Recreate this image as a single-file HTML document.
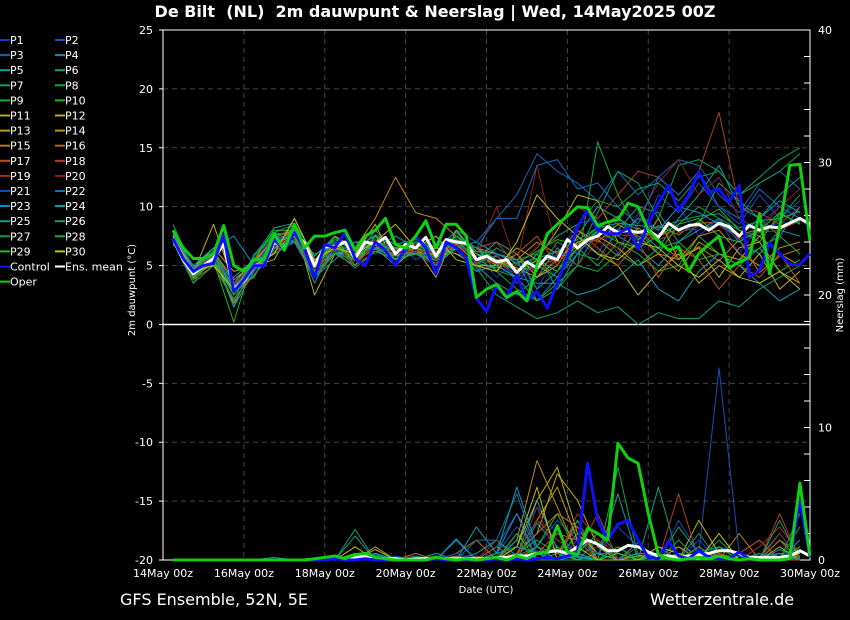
<!DOCTYPE html>
<html><head><meta charset="utf-8"><style>
html,body{margin:0;padding:0;background:#000;}
svg{display:block;font-family:"DejaVu Sans","Liberation Sans",sans-serif;}
</style></head><body>
<svg id="chart" width="850" height="620" viewBox="0 0 850 620" xmlns="http://www.w3.org/2000/svg">
<rect x="0" y="0" width="850" height="620" fill="#000"/>
<text x="435" y="17" fill="#fff" font-size="16" font-weight="bold" text-anchor="middle" xml:space="preserve">De Bilt  (NL)  2m dauwpunt &amp; Neerslag | Wed, 14May2025 00Z</text>
<g id="grid"></g>
<g id="axes"></g>
<g id="series" clip-path="url(#plotclip)"></g>
<defs><clipPath id="plotclip"><rect x="163" y="29" width="648" height="533"/></clipPath></defs>
<g id="legend"></g>
<text transform="translate(135,290) rotate(-90)" fill="#fff" font-size="10" text-anchor="middle">2m dauwpunt (°C)</text>
<text transform="translate(843,295) rotate(-90)" fill="#fff" font-size="10" text-anchor="middle">Neerslag (mm)</text>
<text x="486" y="593" fill="#fff" font-size="10" text-anchor="middle">Date (UTC)</text>
<text x="120" y="605" fill="#fff" font-size="16">GFS Ensemble, 52N, 5E</text>
<text x="650" y="605" fill="#fff" font-size="16">Wetterzentrale.de</text>
</svg>
<script>
const xLabels=["14May 00z","16May 00z","18May 00z","20May 00z","22May 00z","24May 00z","26May 00z","28May 00z","30May 00z"];
const yTicks=[25,20,15,10,5,0,-5,-10,-15,-20];
const y2Ticks=[40,30,20,10,0];
const meanT=[7.3,5.5,4.3,5.0,5.6,6.8,3.0,3.7,5.0,5.0,7.0,6.5,7.8,6.9,5.0,6.6,6.6,7.0,5.6,7.0,6.8,7.4,6.0,6.8,6.5,7.4,5.8,7.2,7.0,6.9,5.5,5.8,5.3,5.5,4.4,5.3,4.8,5.8,5.5,7.2,6.5,7.2,7.5,8.3,7.8,8.0,7.8,8.0,7.4,8.6,8.0,8.4,8.5,8.0,8.6,8.3,7.5,8.4,8.0,8.3,8.2,8.6,9.0,8.5];
const controlT=[7.3,5.6,4.5,5.0,5.2,7.6,2.8,3.8,5.0,5.0,7.2,6.3,7.8,6.5,4.0,6.8,6.5,7.8,5.6,5.0,7.0,6.3,5.0,6.5,7.5,6.5,4.3,7.0,6.5,5.6,2.2,1.1,3.3,2.2,4.2,2.0,2.8,1.4,3.5,5.7,8.3,9.7,8.0,7.7,7.7,8.2,6.4,8.5,10.3,11.8,9.7,11.0,12.9,11.2,11.5,10.4,11.8,4.0,4.6,6.9,6.0,5.1,5.1,6.0];
const operT=[8.0,6.5,5.6,5.6,6.0,8.4,5.0,4.5,5.5,5.5,7.7,6.3,8.5,6.5,7.5,7.5,7.8,8.0,6.3,7.5,8.0,9.0,6.8,6.5,7.5,8.8,6.5,8.5,8.5,7.5,2.3,3.0,3.4,2.3,2.8,2.0,5.0,7.7,8.5,9.2,10.0,9.9,8.4,8.7,8.9,10.3,10.0,8.0,7.1,6.3,6.6,4.5,6.0,6.8,7.5,4.8,5.3,5.7,9.4,4.3,8.3,13.5,13.6,7.1];
const meanP=[0,0,0,0,0,0,0,0,0,0,0,0,0,0,0.05,0.1,0.1,0.1,0.2,0.3,0.1,0.1,0.1,0,0.1,0.1,0.1,0.1,0.1,0.1,0.1,0.1,0.2,0.2,0.3,0.3,0.5,0.6,0.7,0.5,1.0,1.5,1.2,0.7,0.7,1.1,1.0,0.6,0.3,0.3,0.2,0.3,0.4,0.5,0.7,0.7,0.5,0.2,0.2,0.2,0.2,0.3,0.7,0.3];
const controlP=[0,0,0,0,0,0,0,0,0,0,0,0,0,0,0,0,0.1,0,0,0.1,0,0,0,0,0,0,0.1,0,0,0,0,0,0.1,0,0.1,0,0.1,0.2,0.1,0.3,0.6,7.3,3.0,1.5,2.7,3.0,1.5,0.2,0.1,1.4,0.3,0.1,0.7,0.2,0.1,0.1,0.6,0.1,0,0,0,0.1,4.5,0.2];
const operP=[0,0,0,0,0,0,0,0,0,0,0,0,0,0,0.1,0.2,0.3,0.1,0.4,0.5,0.2,0.1,0,0,0,0,0.2,0.1,0,0.1,0,0.1,0.2,0,0.3,0.1,0.5,0.6,2.6,0.6,0.4,2.4,2.0,1.5,8.8,7.7,7.3,3.5,0.4,0.1,0,0.1,0.2,0.1,0.3,0.1,0,0.1,0,0,0,0.1,5.8,0.3];
const memberNames=["P1","P2","P3","P4","P5","P6","P7","P8","P9","P10","P11","P12","P13","P14","P15","P16","P17","P18","P19","P20","P21","P22","P23","P24","P25","P26","P27","P28","P29","P30"];
const memberT=[
[7.5,4.0,6.0,2.5,5.5,7.5,8.0,4.5,7.0,5.0,7.5,6.5,7.0,5.0,7.5,6.0,4.0,5.5,3.0,6.0,8.5,9.0,6.0,9.5,8.0,10.0,7.5,9.0,6.0,8.5,10.0,9.0],
[7.0,4.5,5.0,3.5,4.5,6.5,7.5,5.5,6.0,6.5,6.0,7.0,5.5,6.5,6.5,4.5,6.0,3.5,5.5,4.0,7.0,6.0,9.0,7.0,11.0,9.5,12.0,10.0,8.5,11.0,9.0,10.5],
[7.8,4.2,5.5,2.0,6.0,7.2,8.5,5.8,7.5,6.0,7.0,5.5,7.5,6.0,8.0,7.0,9.0,11.0,14.5,13.0,12.0,10.5,13.0,11.0,12.5,14.0,13.5,11.0,9.5,12.0,13.0,11.5],
[7.2,3.8,6.2,3.5,4.0,7.5,7.0,4.0,6.5,5.5,8.0,6.0,6.0,5.5,6.5,5.0,3.5,2.5,4.0,6.5,5.0,8.0,7.5,6.5,5.0,7.0,8.0,9.0,7.0,6.0,8.0,7.5],
[7.6,5.0,5.0,4.0,5.5,6.5,8.2,5.0,6.0,7.0,6.5,5.0,7.0,6.5,6.0,5.5,7.0,6.0,3.0,4.5,7.5,10.0,9.0,8.0,6.5,9.0,11.0,13.5,10.0,9.0,7.5,10.0],
[7.0,3.5,5.8,1.5,4.5,7.8,7.5,3.5,7.0,5.5,6.5,7.5,6.5,5.0,7.0,6.5,5.0,4.0,6.0,3.0,6.0,5.5,8.0,10.0,9.5,7.0,8.5,12.0,10.5,9.0,11.0,12.5],
[8.5,4.5,6.5,2.8,5.5,6.8,7.0,6.0,6.5,5.0,7.0,6.5,6.8,6.0,6.5,5.0,6.5,5.5,4.5,7.0,6.0,9.5,13.0,12.0,9.0,13.5,14.0,13.0,11.0,12.5,14.0,15.0],
[7.4,4.0,5.2,3.2,5.0,6.0,9.0,5.5,7.2,6.2,6.5,6.0,7.0,5.5,7.5,6.5,4.5,3.0,2.0,3.5,5.0,15.5,11.0,8.0,6.0,8.5,10.0,9.0,8.0,7.5,9.0,11.0],
[7.0,4.6,6.0,3.0,4.0,7.0,8.0,4.5,6.0,6.5,7.5,5.5,6.0,6.0,7.0,5.5,5.5,4.5,5.0,4.0,6.5,5.0,7.0,6.0,4.5,5.0,7.5,6.0,5.5,6.5,4.5,5.5],
[7.8,3.9,5.4,0.2,5.8,7.6,7.8,5.2,6.8,5.8,6.2,6.4,6.8,6.2,6.8,5.2,4.8,5.2,6.2,7.2,6.8,8.2,9.2,7.2,8.4,7.6,8.8,9.8,8.0,7.0,9.4,8.6],
[6.8,4.8,6.5,4.5,5.0,5.5,8.5,2.5,6.0,6.0,8.5,5.0,6.5,4.0,8.0,6.0,5.0,6.5,5.5,8.0,11.0,10.5,7.0,6.5,9.0,5.5,6.5,4.0,6.5,7.0,4.5,3.5],
[7.5,4.4,8.5,3.5,5.5,7.0,7.5,5.0,6.5,6.0,6.5,6.5,6.0,6.5,6.0,5.0,5.0,6.0,4.0,5.0,7.5,6.0,5.0,2.5,4.5,6.0,3.5,5.0,4.0,6.0,3.0,4.5],
[7.3,4.2,5.7,1.8,4.8,6.5,7.8,4.8,6.8,5.5,7.0,5.8,6.5,5.8,7.2,6.5,5.5,4.8,4.0,5.5,7.0,7.5,6.5,5.0,6.0,4.5,7.0,6.0,5.5,7.5,6.0,5.0],
[7.6,4.7,6.2,3.8,5.2,7.4,8.0,5.4,7.5,6.5,9.0,12.5,9.5,9.0,7.5,6.5,6.0,5.5,7.0,6.0,8.0,7.0,8.5,7.5,6.0,5.5,7.5,8.0,6.0,5.0,6.5,7.0],
[7.1,4.1,5.3,2.6,4.6,6.8,7.4,4.6,6.4,5.4,6.4,5.8,6.2,5.4,6.8,5.2,5.8,4.6,5.4,5.6,6.8,7.2,5.8,8.2,7.0,5.6,6.6,5.4,7.2,4.4,5.8,6.4],
[7.4,4.3,5.9,3.1,5.1,7.1,7.9,5.1,6.7,5.7,6.9,6.1,6.6,5.9,7.1,5.6,5.4,4.5,4.9,5.6,6.6,7.6,7.9,7.9,7.5,8.1,8.6,8.7,7.6,8.1,8.3,9.1],
[7.0,3.8,5.0,2.2,4.2,6.2,7.2,4.2,6.0,5.0,6.2,5.5,6.0,5.2,6.5,5.0,4.5,6.0,7.5,5.0,8.0,6.5,5.0,7.0,4.0,6.5,5.5,3.0,5.0,4.0,6.0,3.5],
[7.7,4.5,6.0,3.3,5.5,7.3,8.2,5.3,7.0,6.0,7.2,6.3,7.0,6.2,7.5,6.5,7.0,5.0,6.5,8.5,10.0,9.0,11.0,13.0,12.5,11.0,13.0,18.0,10.0,9.5,8.5,10.0],
[7.2,4.4,5.5,3.0,4.9,6.9,7.7,4.9,6.5,5.5,6.7,5.9,6.4,5.7,6.9,5.4,5.2,4.3,4.7,5.3,6.3,7.3,7.6,7.5,7.2,7.8,8.3,8.4,7.3,7.8,8.0,8.8],
[7.4,4.1,5.8,2.9,5.2,6.6,7.6,4.6,6.8,5.0,6.8,6.2,6.8,5.5,7.0,5.8,10.0,5.0,13.5,6.0,5.0,7.0,6.5,9.0,12.0,14.0,11.0,12.5,9.0,8.0,10.0,11.5],
[7.3,4.6,5.6,3.5,5.1,7.2,7.6,5.2,6.3,5.9,7.0,6.4,6.1,5.6,7.3,5.1,5.9,3.9,5.2,5.9,6.1,7.8,8.1,7.4,7.7,8.3,8.0,8.9,7.1,8.2,8.6,8.7],
[7.0,4.0,6.0,2.8,4.5,7.5,7.5,5.5,7.0,6.0,6.5,5.5,7.0,6.0,7.0,6.5,9.0,9.0,13.5,14.0,11.5,12.0,10.0,8.5,12.5,11.0,13.0,10.0,9.0,11.5,10.0,9.0],
[7.5,5.0,6.5,7.5,5.0,6.5,7.0,5.5,6.0,6.5,6.5,6.0,6.0,5.0,6.5,7.0,6.0,5.5,2.0,4.0,6.0,8.0,7.5,9.0,8.0,10.0,9.5,8.5,7.5,9.0,10.5,9.5],
[7.6,4.8,6.2,1.5,5.5,6.0,7.0,4.0,5.5,7.0,7.0,5.5,7.5,6.0,6.5,4.5,5.0,4.0,3.5,3.5,2.5,3.0,4.0,5.5,3.0,2.0,4.5,6.0,5.0,3.5,2.0,3.0],
[7.2,4.2,5.4,2.8,5.8,8.2,8.6,5.8,7.4,6.4,7.6,6.8,7.2,6.6,7.8,6.2,6.0,5.2,5.6,6.2,7.2,8.2,8.6,8.4,8.2,8.8,9.2,9.4,8.2,8.8,9.0,9.6],
[7.0,4.6,6.2,2.6,4.2,6.4,7.2,4.4,6.2,4.8,6.2,5.6,6.0,5.4,6.4,4.8,2.5,1.5,0.5,1.0,2.0,1.0,1.5,0.0,1.0,0.5,0.5,2.0,1.5,3.0,4.0,5.0],
[7.3,3.5,5.0,2.0,5.8,7.8,8.5,4.0,6.0,5.5,7.5,6.5,7.0,6.5,7.5,6.5,5.5,5.5,6.0,7.5,8.5,10.5,10.0,11.5,12.0,10.5,12.5,13.0,11.0,12.0,13.0,14.5],
[7.5,4.4,5.8,3.2,4.8,7.0,7.6,5.0,6.6,5.6,7.0,6.2,6.6,5.6,7.2,5.6,4.6,4.0,2.0,3.0,5.0,4.5,6.0,5.0,6.5,7.0,5.5,6.0,5.0,6.5,7.5,6.0],
[7.2,4.0,5.5,2.5,5.5,8.0,8.0,4.5,7.5,5.0,7.5,5.5,6.0,6.0,7.5,6.0,5.5,4.5,5.5,4.5,6.5,8.0,7.0,6.5,7.5,8.5,9.0,7.5,7.0,8.0,9.5,8.5],
[7.5,4.5,5.0,3.0,5.0,6.0,9.0,5.5,6.5,6.0,7.0,8.5,6.5,7.5,5.5,5.0,4.5,7.0,11.0,9.0,7.5,6.0,5.5,7.0,6.5,5.0,4.0,5.5,4.0,3.5,4.5,3.0]];
const memberP=[
[0,0,0,0,0,0,0,0,0,0.2,0.5,0,0,0,0,0,0.3,1.5,4.0,2.0,0.5,1.0,0.2,0.5,0,0,1.5,0,0,0.5,0,0.3],
[0,0,0,0,0,0,0,0,0,0,0,0.3,0,0,0.2,0,0.5,2.5,1.0,3.0,1.5,0.5,0,0,0.5,1.0,0.5,14.5,0.5,0,0.2,0],
[0,0,0,0,0,0,0,0,0,0,0.4,0,0,0,0,0,1.0,3.5,1.0,0,2.0,0.5,0,0,1.0,0,0.5,0,0,0.3,0.5,0],
[0,0,0,0,0,0.2,0,0,0,0,0,0,0.3,0,1.6,0,0.5,0,2.8,1.0,0,0.5,0.5,0,0,0.3,0.2,0,0.3,0,0.8,0.2],
[0,0,0,0,0,0,0,0,0,0,0,0,0,0.5,0,0.5,1.5,0.3,4.5,0.8,0.2,0,0,1.3,0,0,0.6,1.0,0,0.2,2.0,0],
[0,0,0,0,0,0,0,0,0,1.8,0,0,0,0,0,0,0,2.0,0.5,0,3.0,0,0.5,0,5.5,0,0,0,0.5,0,1.5,0.5],
[0,0,0,0,0,0,0,0,0,0,0.5,0,0,0,0,0.3,0,0.5,1.5,0.5,0,1.5,0,1.0,0,2.5,0.5,0,0,0,0,1.0],
[0,0,0,0,0,0,0,0,0,0,0,0,0,0,0,0,0.5,0,1.0,0.5,3.0,0,7.0,0.3,0,0,0,1.5,0,0,0.5,0],
[0,0,0,0,0,0,0,0,0.3,0,0,0,0,0,0,0,0,0,0.5,0,2.0,0,0.5,0,0,0,0,2.0,0,0,0,3.5],
[0,0,0,0,0,0,0,0,0,0.5,0,0.2,0,0,0,0,0,0,1.0,3.5,0.5,0,0,0,0.3,0,0,0,0.5,0,0,0.2],
[0,0,0,0,0,0,0,0,0,0,0.8,0,0,0,0,0,0,1.0,4.5,7.0,2.0,0.5,0,0,0.5,0,1.0,0,0,0,0.5,0],
[0,0,0,0,0,0,0,0,0,0.3,0,0,0,0,0,0,0,0.5,2.0,6.5,4.5,1.0,0,0.3,0.5,0,3.0,0.5,0,0,0,0.3],
[0,0,0,0,0,0,0,0,0,0,1.0,0,0,0,0,0,0,0.5,3.0,5.5,1.5,0.5,0,0,0,1.0,0,0,0.5,0,1.0,0],
[0,0,0,0,0,0,0,0,0,0.5,0,0,0,0,0.3,0,0,1.5,7.5,4.0,0.5,0,0.5,0,0,0,0.5,0,2.0,0,0,0.5],
[0,0,0,0,0,0,0,0,0,0,0,0,0.5,0,0.5,1.5,0,0.5,2.0,3.5,2.5,0.5,0,0,0,0,0,0.5,0,0,1.5,0],
[0,0,0,0,0,0,0,0,0,0,0,0,0,0.3,0,0,0,0.3,1.0,0.5,2.5,0,0.5,0,0.5,0,0,0.5,0,0,0.5,0],
[0,0,0,0,0,0,0,0,0,0.2,0,0,0,0,0,0,1.0,0,0.5,2.0,1.5,0,0,0,0.5,0,0,0,0.5,1.5,0,0],
[0,0,0,0,0,0,0,0,0,0,0,0,0,0,0,0.3,0,0.5,3.0,1.5,0.5,3.5,0,1.0,0,5.0,0,0,0,0,3.5,0],
[0,0,0,0,0,0,0,0,0,0,0,0,0,0,0,0,1.5,0,0.5,0,3.5,1.5,0.5,0,0,0,0.5,0,0,1.0,2.5,0.5],
[0,0,0,0,0,0,0,0,0,0,0,0,0,0,0,0,0.5,0,4.0,0,0.5,2.0,0,0.5,0,0,1.0,0,0,0,2.0,0],
[0,0,0,0,0,0,0,0,0,0,0,0,0,0,0.5,0,0,1.0,0.5,0,1.5,0.5,2.5,1.0,0,3.0,0.5,0,0,0.5,0,0.5],
[0,0,0,0,0,0,0,0,0,0,0,0,0,0,0,1.5,1.5,5.0,0.5,0,0.5,0,0,0,1.0,0,0,1.0,0.5,0,0.5,0],
[0,0,0,0,0,0,0,0,0,0,0,0,0,0,1.5,0,0.5,3.5,0,0,0.3,0,0.5,0,0,0,0.5,0,0,0,0,1.5],
[0,0,0,0,0,0,0,0,0,0,0.5,0,0,0,0,2.5,0.5,5.5,1.0,0,0,0.5,0,0.5,0.5,0,0,0,0,0.5,0,0.5],
[0,0,0,0,0,0,0,0,0,2.3,0,0,0,0,0,0,0.5,1.0,0.5,0,0,0,5.0,0,0.5,0,1.0,0,0,0,0.5,0],
[0,0,0,0,0,0,0,0,0,0,0,0,0,0,0,0,0,0.5,0,0,0.5,2.0,0.5,0,0,0,2.0,0,0,0,3.0,0],
[0,0,0,0,0,0,0,0,0,0.5,0,0,0,0,0,0,0,1.5,0,0,0.5,0,1.0,0,0,1.5,0,0,0,0.5,0,2.5],
[0,0,0,0,0,0,0,0,0,0,0,0,0,0,0,0,0,0.5,0,0.5,0,0,1.0,0,0.5,0,0,1.0,0,0,0,0.5],
[0,0,0,0,0,0,0,0,0,0.5,0.3,0,0,0,0,0,0,2.0,0,1.0,0,0,0.5,0,0,0.5,0,0,0.5,0,0,1.0],
[0,0,0,0,0,0,0,0,0,1.0,0,0,0,0,0,0,0,1.0,5.5,0,1.0,0,0,0,1.0,0.5,0,2.0,0,0,0,0.5]];
const memberColors=["#2030d0","#1050c0","#1068b8","#1090b8","#10a0a8","#10a080","#10a060","#10a848","#10b030","#20b820","#b8b010","#c0b010","#c0a010","#c08c10","#c07010","#c06010","#c05018","#b04020","#a03020","#902020","#1848b8","#1070c0","#1090c8","#10a0b0","#10a088","#10a070","#10a050","#10b040","#20c020","#c0c010"];

const NS="http://www.w3.org/2000/svg";
const X0=163,X1=810,Y0=30,Y1=560;
const HOURS=384;
function xs(h){return X0+(X1-X0)*h/HOURS;}
function yT(v){return Y1-(v+20)*(Y1-Y0)/45;}
function yP(v){return Y1-v*(Y1-Y0)/40;}
function mk(tag,attrs,parent){const e=document.createElementNS(NS,tag);for(const k in attrs)e.setAttribute(k,attrs[k]);parent.appendChild(e);return e;}
const grid=document.getElementById('grid'),axes=document.getElementById('axes'),ser=document.getElementById('series'),leg=document.getElementById('legend');

yTicks.forEach(v=>{
  const y=yT(v);
  if(v!==25&&v!==-20&&v!==0){const l=mk('line',{x1:X0,x2:X1,y1:y,y2:y,stroke:'#444','stroke-dasharray':'5,4','stroke-width':1},grid);
  
  }
  const t=mk('text',{x:153,y:y+4,fill:'#fff','font-size':11,'text-anchor':'end'},axes);t.textContent=v;
  
  
  mk('line',{x1:X0-4,x2:X0,y1:y,y2:y,stroke:'#fff'},axes);
});
xLabels.forEach((s,i)=>{
  const x=xs(i*48);
  if(i>0&&i<xLabels.length-1){const l=mk('line',{x1:x,x2:x,y1:Y0,y2:Y1,stroke:'#444','stroke-dasharray':'5,4'},grid);
  
  }
  const t=mk('text',{x:x,y:577,fill:'#fff','font-size':11,'text-anchor':'middle'},axes);t.textContent=s;
  
  
});
y2Ticks.forEach(v=>{
  const y=yP(v);
  const t=mk('text',{x:818,y:y+4,fill:'#fff','font-size':11},axes);t.textContent=v;
  
  
});
for(let m=0;m<=40;m+=2){const y=yP(m);mk('line',{x1:X1-6,x2:X1,y1:y,y2:y,stroke:'#fff'},axes);}
const frame=mk('rect',{x:X0,y:Y0,width:X1-X0,height:Y1-Y0,fill:'none',stroke:'#fff','stroke-width':1},axes);


const zl=mk('line',{x1:X0,x2:X1,y1:yT(0),y2:yT(0),stroke:'#fff','stroke-width':1.5},axes);



function path(vals,step,yf,color,w,name){
  const d=vals.map((v,i)=>(i?'L':'M')+xs(6+i*step).toFixed(1)+','+yf(v).toFixed(1)).join(' ');
  const p=mk('path',{d:d,fill:'none',stroke:color,'stroke-width':w,'stroke-linejoin':'round'},ser);
  
  
}
memberT.forEach((arr,i)=>path(arr,12,yT,memberColors[i],1,'dewpoint-'+memberNames[i].toLowerCase()));
memberP.forEach((arr,i)=>path(arr,12,yP,memberColors[i],1,'precip-'+memberNames[i].toLowerCase()));
path(meanP,6,yP,'#fff',3,'precip-ens-mean');
path(controlP,6,yP,'#1010ff',3,'precip-control');
path(operP,6,yP,'#10d010',3,'precip-oper');
path(meanT,6,yT,'#fff',3,'dewpoint-ens-mean');
path(controlT,6,yT,'#1010ff',3,'dewpoint-control');
path(operT,6,yT,'#10d010',3,'dewpoint-oper');

const legNames=memberNames.concat(["Control","Ens. mean","Oper"]);
const legColors=memberColors.concat(["#1010ff","#fff","#10d010"]);
legNames.forEach((n,i)=>{
  const col=i%2,row=Math.floor(i/2);
  const x=col?55:0,y=40+row*15.1;
  const g=mk('g',{},leg);
  
  
  mk('line',{x1:x,x2:x+10,y1:y,y2:y,stroke:legColors[i],'stroke-width':2},g);
  const t=mk('text',{x:x+10,y:y+4,fill:'#fff','font-size':11},g);t.textContent=n;
});
</script>
</body></html>
